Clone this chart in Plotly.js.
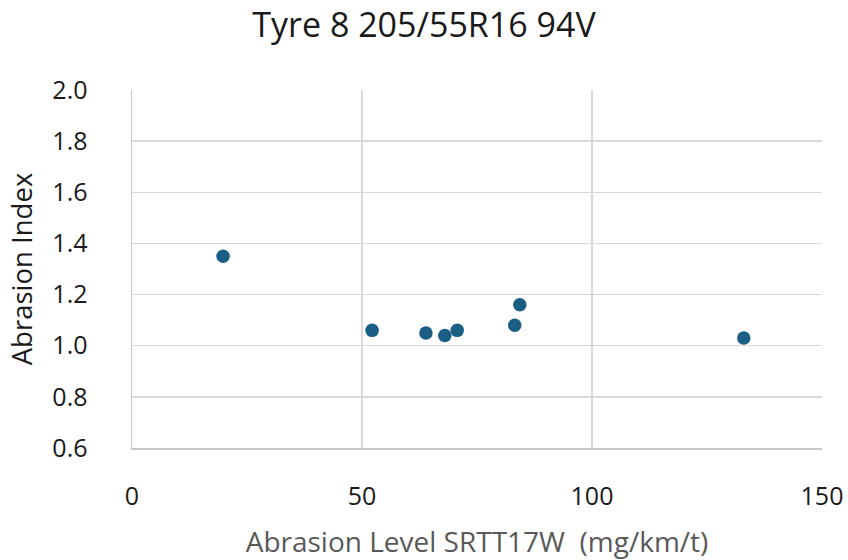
<!DOCTYPE html>
<html>
<head>
<meta charset="utf-8">
<script src="https://cdn.plot.ly/plotly-3.0.1.min.js"></script>
<style>html,body{margin:0;padding:0;background:#fff;}#chart{width:848px;height:560px;}</style>
</head>
<body>
<div id="chart"></div>
<script>
const abrasionLevel = [19.8, 52.2, 63.9, 68.0, 70.7, 83.2, 84.3, 133.0];
const abrasionIndex = [1.35, 1.06, 1.05, 1.04, 1.06, 1.08, 1.16, 1.03];
const chartTitle = "Tyre 8 205/55R16 94V";
const xTitle = "Abrasion Level SRTT17W  (mg/km/t)";
const yTitle = "Abrasion Index";

const FONT = "Open Sans, Noto Sans, sans-serif";
Plotly.newPlot('chart', [{
  x: abrasionLevel,
  y: abrasionIndex,
  type: 'scatter',
  mode: 'markers',
  marker: {size: 13.5, color: '#1b5e85'},
  hoverinfo: 'x+y'
}], {
  width: 848, height: 560,
  margin: {l: 132, r: 26, t: 90, b: 112},
  paper_bgcolor: '#fff', plot_bgcolor: '#fff',
  font: {family: FONT, color: '#222'},
  showlegend: false,
  title: {text: chartTitle, font: {size: 34, color: '#1a1a1a', family: FONT}, x: 0.5, xanchor: 'center', y: 0.955, yanchor: 'middle'},
  xaxis: {
    range: [0, 150], dtick: 50, tick0: 0,
    showgrid: true, gridcolor: '#d9d9d9', gridwidth: 1.5,
    showline: true, linecolor: '#c8c8c8', linewidth: 1.5,
    zeroline: false, ticks: '', ticklabelstandoff: 25,
    tickfont: {size: 25, color: '#1a1a1a'},
    title: {text: xTitle, font: {size: 28, color: '#595959'}, standoff: 23}
  },
  yaxis: {
    range: [0.6, 2.0], dtick: 0.2, tick0: 0.6, tickformat: '.1f',
    showgrid: true, gridcolor: '#d9d9d9', gridwidth: 1.5,
    showline: true, linecolor: '#c8c8c8', linewidth: 1.5,
    zeroline: false, ticks: '', ticklabelstandoff: 38,
    tickfont: {size: 25, color: '#1a1a1a'},
    title: {text: yTitle, font: {size: 27.5, color: '#1a1a1a'}, standoff: 11}
  }
}, {displayModeBar: false, staticPlot: true});
</script>
</body>
</html>
